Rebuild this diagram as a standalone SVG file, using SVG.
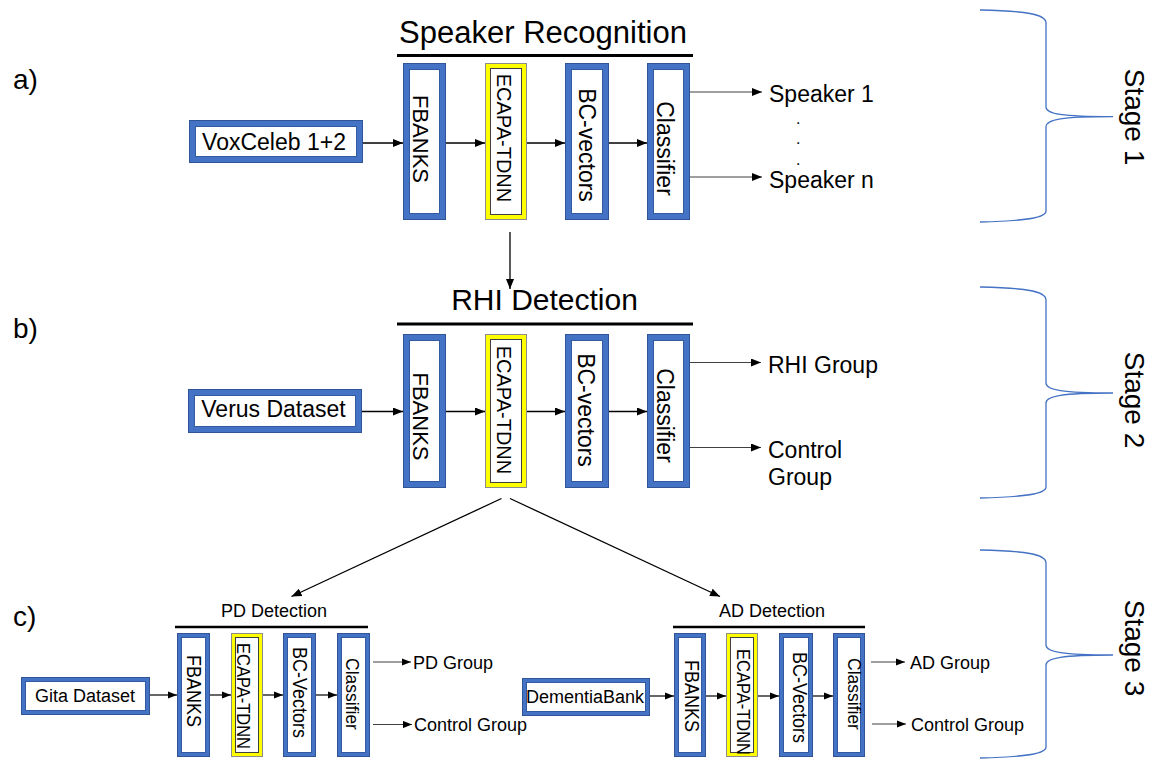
<svg xmlns="http://www.w3.org/2000/svg" width="1151" height="759" viewBox="0 0 1151 759">
<defs>
<style>
text{font-family:"Liberation Sans",Arial,sans-serif;fill:#000}
.box{fill:#fff;stroke:#4472C4}
.b7{stroke-width:7}
.b5{stroke-width:5}
.eo{fill:none;stroke:#2F5597;stroke-width:1}
.ei{fill:none;stroke:#2F5597;stroke-width:0.8}
.yel{fill:#fff;stroke:#FFFF00}
.yo{fill:none;stroke:#8C8C8C;stroke-width:1}
.yi{fill:none;stroke:#404040;stroke-width:1}
.arr{stroke:#000;stroke-width:1.3;fill:none;marker-end:url(#ah)}
.arrs{stroke:#000;stroke-width:1.2;fill:none;marker-end:url(#ahs)}
.out{stroke:#404040;stroke-width:1.2;fill:none;marker-end:url(#ah)}
.outs{stroke:#404040;stroke-width:1.2;fill:none;marker-end:url(#ahs)}
.bar{stroke:#000;stroke-width:3.2}
.bar2{stroke:#000;stroke-width:2.6}
.brace{fill:none;stroke:#4472C4;stroke-width:1.3}
.t23{font-size:23px}
.t18{font-size:18px}
.dot{font-size:16px}
</style>
<marker id="ah" viewBox="0 0 10 8" refX="10" refY="4" markerWidth="10" markerHeight="8" orient="auto" markerUnits="userSpaceOnUse"><path d="M0,0 L10,4 L0,8 z" fill="#000"/></marker>
<marker id="ahs" viewBox="0 0 10 8" refX="10" refY="4" markerWidth="9" markerHeight="7.5" orient="auto" markerUnits="userSpaceOnUse"><path d="M0,0 L10,4 L0,8 z" fill="#000"/></marker>
</defs>
<rect width="1151" height="759" fill="#fff"/>

<!-- panel labels -->
<g id="labels">
<text x="13" y="89" font-size="28">a)</text>
<text x="13" y="338" font-size="28">b)</text>
<text x="13" y="626" font-size="28">c)</text>
</g>

<!-- Stage a -->
<g id="title-a">
<text x="543" y="43" font-size="31" text-anchor="middle">Speaker Recognition</text>
<line class="bar" x1="397" y1="55.5" x2="693" y2="55.5"/>
</g>
<g id="voxceleb">
<rect class="box b7" x="192.5" y="123.5" width="167" height="36"/>
<rect class="eo" x="189.5" y="120.5" width="173" height="42"/>
<rect class="ei" x="195.5" y="126.5" width="161" height="30"/>
<text class="t23" x="274" y="150" text-anchor="middle">VoxCeleb 1+2</text>
</g>
<g id="a-fbanks">
<rect class="box b7" x="406.5" y="66.5" width="36" height="150"/>
<rect class="eo" x="403.5" y="63.5" width="42" height="156"/>
<rect class="ei" x="409.5" y="69.5" width="30" height="144"/>
<text transform="translate(420.5,139) rotate(90)" y="8" font-size="22" text-anchor="middle">FBANKS</text>
</g>
<g id="a-ecapa">
<rect class="yel" stroke-width="5" x="487.5" y="65.5" width="37" height="152"/>
<rect class="yo" x="485.5" y="63.5" width="41" height="156"/>
<rect class="yi" x="490.5" y="68.5" width="31" height="146"/>
<text transform="translate(504,138) rotate(90)" y="7" font-size="20" text-anchor="middle">ECAPA-TDNN</text>
</g>
<g id="a-bc">
<rect class="box b7" x="568.5" y="66.5" width="37" height="150"/>
<rect class="eo" x="565.5" y="63.5" width="43" height="156"/>
<rect class="ei" x="571.5" y="69.5" width="31" height="144"/>
<text class="t23" transform="translate(586.5,145) rotate(90)" y="8" text-anchor="middle">BC-vectors</text>
</g>
<g id="a-classifier">
<rect class="box b7" x="650.5" y="66.5" width="36" height="150"/>
<rect class="eo" x="647.5" y="63.5" width="42" height="156"/>
<rect class="ei" x="653.5" y="69.5" width="30" height="144"/>
<text class="t23" transform="translate(664.5,148.5) rotate(90)" y="8" text-anchor="middle">Classifier</text>
</g>
<g id="a-outputs">
<text class="t23" x="769" y="102">Speaker 1</text>
<text class="dot" x="796" y="124">.</text>
<text class="dot" x="796" y="144">.</text>
<text class="dot" x="796" y="165">.</text>
<text class="t23" x="769" y="188">Speaker n</text>
</g>

<!-- Stage b -->
<g id="title-b">
<text x="544.5" y="310" font-size="30" text-anchor="middle">RHI Detection</text>
<line class="bar" x1="397" y1="324" x2="693" y2="324"/>
</g>
<g id="verus">
<rect class="box b7" x="191.5" y="392.5" width="167" height="37"/>
<rect class="eo" x="188.5" y="389.5" width="173" height="43"/>
<rect class="ei" x="194.5" y="395.5" width="161" height="31"/>
<text class="t23" x="273.5" y="417" text-anchor="middle">Verus Dataset</text>
</g>
<g id="b-fbanks">
<rect class="box b7" x="406.5" y="337.5" width="36" height="147"/>
<rect class="eo" x="403.5" y="334.5" width="42" height="153"/>
<rect class="ei" x="409.5" y="340.5" width="30" height="141"/>
<text transform="translate(420.5,416.5) rotate(90)" y="8" font-size="22" text-anchor="middle">FBANKS</text>
</g>
<g id="b-ecapa">
<rect class="yel" stroke-width="5" x="487.5" y="336.5" width="37" height="149"/>
<rect class="yo" x="485.5" y="334.5" width="41" height="153"/>
<rect class="yi" x="490.5" y="339.5" width="31" height="143"/>
<text transform="translate(504,410) rotate(90)" y="7" font-size="20" text-anchor="middle">ECAPA-TDNN</text>
</g>
<g id="b-bc">
<rect class="box b7" x="568.5" y="337.5" width="37" height="147"/>
<rect class="eo" x="565.5" y="334.5" width="43" height="153"/>
<rect class="ei" x="571.5" y="340.5" width="31" height="141"/>
<text class="t23" transform="translate(586,410) rotate(90)" y="8" text-anchor="middle">BC-vectors</text>
</g>
<g id="b-classifier">
<rect class="box b7" x="650.5" y="337.5" width="36" height="147"/>
<rect class="eo" x="647.5" y="334.5" width="42" height="153"/>
<rect class="ei" x="653.5" y="340.5" width="30" height="141"/>
<text class="t23" transform="translate(664.5,415.5) rotate(90)" y="8" text-anchor="middle">Classifier</text>
</g>
<g id="b-outputs">
<text class="t23" x="768" y="373">RHI Group</text>
<text class="t23" x="768" y="458">Control</text>
<text class="t23" x="768" y="485">Group</text>
</g>

<!-- Stage c: PD -->
<g id="title-pd">
<text class="t18" x="274" y="617" text-anchor="middle">PD Detection</text>
<line class="bar2" x1="175" y1="627" x2="368" y2="627"/>
</g>
<g id="gita">
<rect class="box b5" x="23.5" y="679.5" width="124" height="33"/>
<rect class="eo" x="21.5" y="677.5" width="128" height="37"/>
<rect class="ei" x="25.5" y="681.5" width="120" height="29"/>
<text class="t18" x="85" y="702" text-anchor="middle">Gita Dataset</text>
</g>
<g id="pd-fbanks">
<rect class="box b5" x="179.5" y="635.5" width="28" height="119"/>
<rect class="eo" x="177.5" y="633.5" width="32" height="123"/>
<rect class="ei" x="181.5" y="637.5" width="24" height="115"/>
<text transform="translate(194,691) rotate(90) scale(1,1.12)" y="6.5" font-size="18" text-anchor="middle">FBANKS</text>
</g>
<g id="pd-ecapa">
<rect class="yel" stroke-width="4" x="233" y="635" width="28" height="120"/>
<rect class="yo" x="231.5" y="633.5" width="31" height="123"/>
<rect class="yi" x="235.5" y="637.5" width="23" height="115"/>
<text transform="translate(244,696) rotate(90) scale(1,1.1)" y="6" font-size="16.5" text-anchor="middle">ECAPA-TDNN</text>
</g>
<g id="pd-bc">
<rect class="box b5" x="285.5" y="635.5" width="28" height="119"/>
<rect class="eo" x="283.5" y="633.5" width="32" height="123"/>
<rect class="ei" x="287.5" y="637.5" width="24" height="115"/>
<text transform="translate(300,692.5) rotate(90) scale(1,1.1)" y="6.5" font-size="18" text-anchor="middle">BC-Vectors</text>
</g>
<g id="pd-classifier">
<rect class="box b5" x="339.5" y="635.5" width="28" height="119"/>
<rect class="eo" x="337.5" y="633.5" width="32" height="123"/>
<rect class="ei" x="341.5" y="637.5" width="24" height="115"/>
<text transform="translate(353,694) rotate(90) scale(1,1.1)" y="6.3" font-size="17.5" text-anchor="middle">Classifier</text>
</g>
<g id="pd-outputs">
<text class="t18" x="413" y="668.5">PD Group</text>
<text class="t18" x="414" y="731">Control Group</text>
</g>

<!-- Stage c: AD -->
<g id="title-ad">
<text class="t18" x="772" y="617" text-anchor="middle">AD Detection</text>
<line class="bar2" x1="673" y1="627" x2="865" y2="627"/>
</g>
<g id="dementiabank">
<rect class="box b5" x="524.5" y="680.5" width="123" height="33"/>
<rect class="eo" x="522.5" y="678.5" width="127" height="37"/>
<rect class="ei" x="526.5" y="682.5" width="119" height="29"/>
<text class="t18" x="585" y="703" text-anchor="middle">DementiaBank</text>
</g>
<g id="ad-fbanks">
<rect class="box b5" x="676.5" y="635.5" width="27" height="119"/>
<rect class="eo" x="674.5" y="633.5" width="31" height="123"/>
<rect class="ei" x="678.5" y="637.5" width="23" height="115"/>
<text transform="translate(692.5,696) rotate(90) scale(1,1.12)" y="6.5" font-size="18" text-anchor="middle">FBANKS</text>
</g>
<g id="ad-ecapa">
<rect class="yel" stroke-width="4" x="728" y="635" width="28" height="120"/>
<rect class="yo" x="726.5" y="633.5" width="31" height="123"/>
<rect class="yi" x="730.5" y="637.5" width="23" height="115"/>
<text transform="translate(744,702) rotate(90) scale(1,1.1)" y="6" font-size="16.5" text-anchor="middle">ECAPA-TDNN</text>
</g>
<g id="ad-bc">
<rect class="box b5" x="781.5" y="635.5" width="29" height="119"/>
<rect class="eo" x="779.5" y="633.5" width="33" height="123"/>
<rect class="ei" x="783.5" y="637.5" width="25" height="115"/>
<text transform="translate(800,697.5) rotate(90) scale(1,1.1)" y="6.5" font-size="18" text-anchor="middle">BC-Vectors</text>
</g>
<g id="ad-classifier">
<rect class="box b5" x="835.5" y="635.5" width="27" height="119"/>
<rect class="eo" x="833.5" y="633.5" width="31" height="123"/>
<rect class="ei" x="837.5" y="637.5" width="23" height="115"/>
<text transform="translate(854.5,694) rotate(90) scale(1,1.1)" y="6.3" font-size="17.5" text-anchor="middle">Classifier</text>
</g>
<g id="ad-outputs">
<text class="t18" x="910" y="668.5">AD Group</text>
<text class="t18" x="911" y="731">Control Group</text>
</g>

<!-- Stage braces -->
<g id="stage1">
<path class="brace" d="M980,10 C1025,11 1046,14 1046,23 L1046,107 C1046,114 1062,116.7 1113,116.7 C1062,116.7 1046,119 1046,127 L1046,211 C1046,218 1025,221 980,222"/>
<text transform="translate(1132,117) rotate(90)" y="7" font-size="28" text-anchor="middle">Stage 1</text>
</g>
<g id="stage2">
<path class="brace" d="M980,287 C1025,288 1046,291 1046,300 L1046,383 C1046,390 1062,393 1113,393 C1062,393 1046,396 1046,403 L1046,487 C1046,494 1025,497 980,498"/>
<text transform="translate(1132,400) rotate(90)" y="7" font-size="28" text-anchor="middle">Stage 2</text>
</g>
<g id="stage3">
<path class="brace" d="M980,550 C1025,551 1046,554 1046,563 L1046,645 C1046,652 1062,655 1113,655 C1062,655 1046,658 1046,665 L1046,747 C1046,754 1025,757 980,758"/>
<text transform="translate(1132,648) rotate(90)" y="7" font-size="28" text-anchor="middle">Stage 3</text>
</g>

<!-- Connectors -->
<g id="connectors">
<line class="arr" x1="363" y1="143" x2="403" y2="143"/>
<line class="arr" x1="446" y1="143" x2="485" y2="143"/>
<line class="arr" x1="527" y1="143" x2="565" y2="143"/>
<line class="arr" x1="609" y1="143" x2="647" y2="143"/>
<line class="out" x1="690" y1="92" x2="762" y2="92"/>
<line class="out" x1="690" y1="177" x2="762" y2="177"/>
<line class="arr" x1="510" y1="232" x2="510" y2="289"/>
<line class="arr" x1="362" y1="411.5" x2="403" y2="411.5"/>
<line class="arr" x1="446" y1="411.5" x2="485" y2="411.5"/>
<line class="arr" x1="527" y1="411.5" x2="565" y2="411.5"/>
<line class="arr" x1="609" y1="411.5" x2="647" y2="411.5"/>
<line class="out" x1="690" y1="362.5" x2="761" y2="362.5"/>
<line class="out" x1="690" y1="447.5" x2="761" y2="447.5"/>
<line class="arr" x1="501.5" y1="498.5" x2="291.5" y2="596.5"/>
<line class="arr" x1="510" y1="498.5" x2="720" y2="596.5"/>
<line class="arrs" x1="150" y1="695" x2="177" y2="695"/>
<line class="arrs" x1="210" y1="695" x2="231" y2="695"/>
<line class="arrs" x1="263" y1="695" x2="283" y2="695"/>
<line class="arrs" x1="316" y1="695" x2="337" y2="695"/>
<line class="outs" x1="373" y1="662" x2="411" y2="662"/>
<line class="outs" x1="373" y1="724.5" x2="412" y2="724.5"/>
<line class="arrs" x1="650" y1="696" x2="674" y2="696"/>
<line class="arrs" x1="706" y1="696" x2="726" y2="696"/>
<line class="arrs" x1="758" y1="696" x2="779" y2="696"/>
<line class="arrs" x1="813" y1="696" x2="833" y2="696"/>
<line class="outs" x1="871" y1="662" x2="905" y2="662"/>
<line class="outs" x1="872" y1="724" x2="906" y2="724"/>
</g>
</svg>
